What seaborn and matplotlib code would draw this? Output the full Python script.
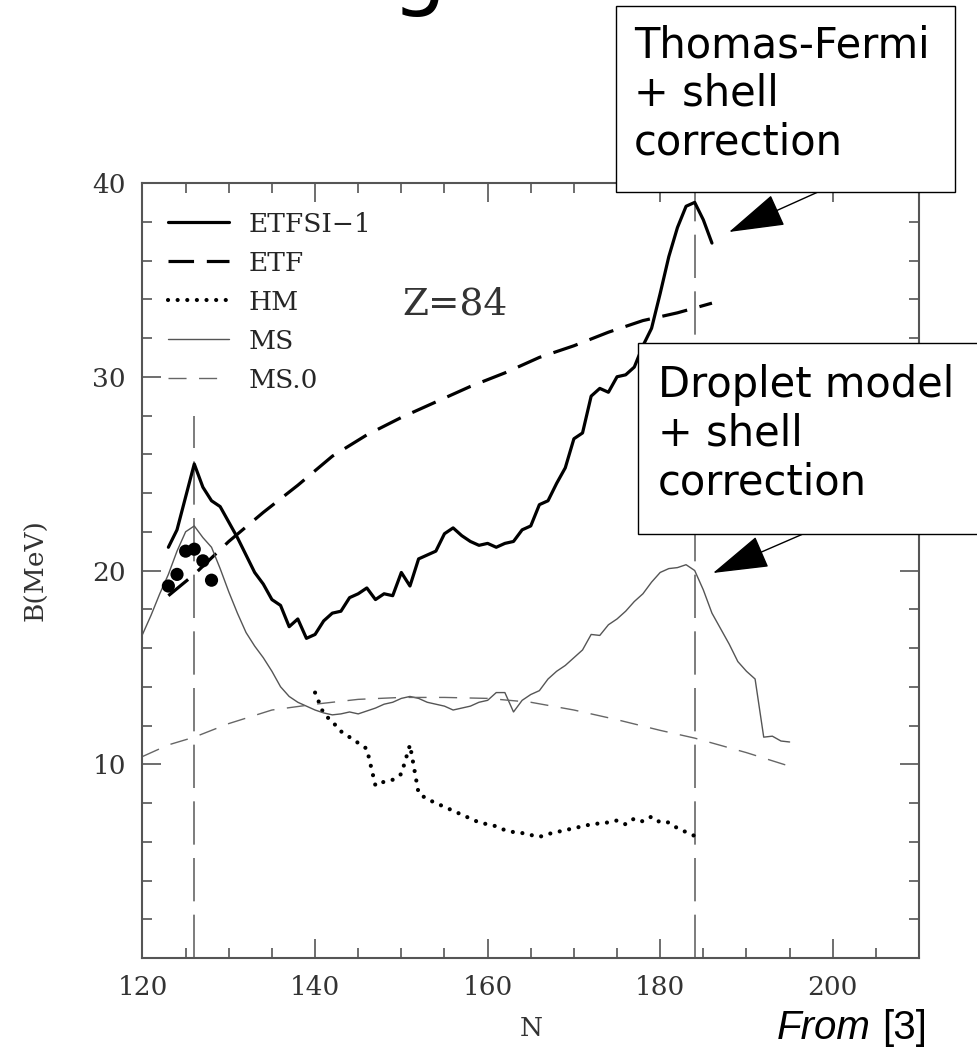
import matplotlib
matplotlib.use("Agg")
import matplotlib.pyplot as plt
import seaborn as sns
import numpy as np
from matplotlib.patches import Rectangle
from matplotlib.ticker import MultipleLocator, FixedLocator

# data (Z=84 fission barriers)
etfsi_n = np.arange(123, 187)
etfsi_b = [21.2, 22.1, 23.8, 25.5, 24.3, 23.6, 23.3, 22.5, 21.7, 20.8,
           19.9, 19.3, 18.5, 18.2, 17.1, 17.5, 16.5, 16.7, 17.4, 17.8,
           17.9, 18.6, 18.8, 19.1, 18.5, 18.8, 18.7, 19.9, 19.2, 20.6,
           20.8, 21.0, 21.9, 22.2, 21.8, 21.5, 21.3, 21.4, 21.2, 21.4,
           21.5, 22.1, 22.3, 23.4, 23.6, 24.5, 25.3, 26.8, 27.1, 29.0,
           29.4, 29.2, 30.0, 30.1, 30.5, 31.6, 32.5, 34.3, 36.2, 37.7,
           38.8, 39.0, 38.1, 36.9]

etf_n = [123, 126, 130, 134, 138, 142, 146, 150, 154, 158, 162, 166, 170, 174, 178, 182, 186]
etf_b = [18.7, 19.8, 21.5, 23.0, 24.4, 25.9, 27.0, 27.9, 28.7, 29.5, 30.2, 31.0, 31.6, 32.3, 32.9, 33.3, 33.8]

hm_n = np.arange(140, 185)
hm_b = [13.7, 12.6, 12.2, 11.7, 11.4, 11.1, 10.8, 8.9, 9.1, 9.2,
        9.5, 11.0, 8.5, 8.2, 8.0, 7.8, 7.6, 7.4, 7.2, 7.0,
        6.9, 6.8, 6.6, 6.5, 6.45, 6.35, 6.25, 6.4, 6.5, 6.6,
        6.7, 6.8, 6.9, 6.95, 7.0, 7.1, 6.9, 7.2, 7.05, 7.3,
        7.0, 7.0, 6.7, 6.5, 6.3]

ms_n = np.arange(120, 196)
ms_b = [16.7, 17.7, 18.8, 19.8, 21.0, 22.0, 22.3, 21.7, 21.2, 20.1,
        18.9, 17.8, 16.8, 16.1, 15.5, 14.8, 14.0, 13.5, 13.2, 13.0,
        12.8, 12.65, 12.55, 12.6, 12.7, 12.6, 12.75, 12.9, 13.1, 13.2,
        13.4, 13.5, 13.4, 13.2, 13.1, 13.0, 12.8, 12.9, 13.0, 13.2,
        13.3, 13.7, 13.7, 12.7, 13.3, 13.6, 13.8, 14.4, 14.8, 15.1,
        15.5, 15.9, 16.7, 16.65, 17.2, 17.5, 17.9, 18.4, 18.8, 19.4,
        19.9, 20.1, 20.15, 20.3, 20.0, 19.0, 17.8, 17.0, 16.2, 15.3,
        14.8, 14.4, 11.4, 11.45, 11.2, 11.15]

ms0_n = [120, 123, 126, 130, 135, 140, 145, 150, 155, 160, 165, 170, 175, 180, 184, 190, 195]
ms0_b = [10.4, 11.0, 11.4, 12.1, 12.8, 13.1, 13.35, 13.45, 13.45, 13.4, 13.2, 12.8, 12.3, 11.75, 11.35, 10.6, 9.9]

exp_n = [123, 124, 125, 126, 127, 128]
exp_b = [19.2, 19.8, 21.0, 21.1, 20.5, 19.5]

magic_n = [126, 184]
magic_top = [28.0, 40.0]

sns.set_style("ticks")
plt.rcParams['font.family'] = ['DejaVu Serif']

fig = plt.figure(figsize=(9.78, 10.5), dpi=100)
ax = fig.add_axes([0.1457, 0.0876, 0.7940, 0.7381])

grey = "#555555"

ax.vlines(magic_n, 0, magic_top, colors="#666666", lw=1.2, linestyles=[(0, (26, 8))])

sns.lineplot(x=etfsi_n, y=etfsi_b, ax=ax, color="black", lw=2.3, label="ETFSI\u22121")
sns.lineplot(x=etf_n, y=etf_b, ax=ax, color="black", lw=2.3, linestyle=(0, (8, 4)), label="ETF")
sns.lineplot(x=hm_n, y=hm_b, ax=ax, color="black", lw=3.0, linestyle=(0, (0.01, 2.3)),
             dash_capstyle="round", label="HM")
sns.lineplot(x=ms_n, y=ms_b, ax=ax, color=grey, lw=1.0, label="MS")
sns.lineplot(x=ms0_n, y=ms0_b, ax=ax, color="#666666", lw=1.0, linestyle=(0, (13, 9)), label="MS.0")
sns.scatterplot(x=exp_n, y=exp_b, ax=ax, color="black", s=90, edgecolor="none", zorder=5)

ax.set_xlim(120, 210)
ax.set_ylim(0, 40)
ax.xaxis.set_major_locator(FixedLocator([120, 140, 160, 180, 200]))
ax.xaxis.set_minor_locator(MultipleLocator(5))
ax.yaxis.set_major_locator(FixedLocator([10, 20, 30, 40]))
ax.yaxis.set_minor_locator(MultipleLocator(2))
ax.tick_params(which="both", direction="in", top=True, right=True, color=grey,
               labelsize=19, labelcolor="#333333", width=1.2)
ax.tick_params(which="major", length=14, pad=12)
ax.tick_params(which="minor", length=7)
for sp in ax.spines.values():
    sp.set_color(grey)
    sp.set_linewidth(1.5)

ax.set_xlabel("N", fontsize=19, color="#333333")
ax.set_ylabel("B(MeV)", fontsize=19, color="#333333")
ax.xaxis.set_label_coords(0.5, -0.075)
ax.yaxis.set_label_coords(-0.121, 0.5)

ax.text(150.1, 33.2, "Z=84", fontsize=27, color="#333333", va="baseline")

ax.legend(loc="upper left", bbox_to_anchor=(0.033, 0.963), frameon=False, fontsize=19,
          handlelength=2.3, handletextpad=0.75, labelspacing=0.53, borderpad=0, borderaxespad=0)

# annotation boxes (slide overlay)
W, H = 978.0, 1050.0
fig.patches.append(Rectangle((616 / W, 1 - 192 / H), (955 - 616) / W, (192 - 6) / H,
                             transform=fig.transFigure, facecolor="white", edgecolor="black",
                             lw=1.0, zorder=5))
fig.patches.append(Rectangle((638 / W, 1 - 534 / H), (990 - 638) / W, (534 - 343) / H,
                             transform=fig.transFigure, facecolor="white", edgecolor="black",
                             lw=1.0, zorder=5))
fig.text(634 / W, 1 - 24 / H, "Thomas-Fermi\n+ shell\ncorrection", fontsize=30,
         family="DejaVu Sans", color="black", va="top", ha="left", zorder=6)
fig.text(658 / W, 1 - 364 / H, "Droplet model\n+ shell\ncorrection", fontsize=30,
         family="DejaVu Sans", color="black", va="top", ha="left", zorder=6)

arrow = dict(arrowstyle="-|>,head_length=1.0,head_width=0.3", mutation_scale=36,
             color="black", lw=1.0, shrinkA=0, shrinkB=0)
ax.annotate("", xy=(729, H - 232), xycoords="figure pixels",
            xytext=(818, H - 192), textcoords="figure pixels", arrowprops=arrow)
ax.annotate("", xy=(713, H - 573), xycoords="figure pixels",
            xytext=(803, H - 534), textcoords="figure pixels", arrowprops=arrow)

# slide title remnant and source
fig.text(0.4, 1 + 1 / H, "g", fontsize=62, family="DejaVu Sans", color="black",
         va="baseline", ha="left")
fig.text(871 / W, 1 - 1039 / H, "From", fontsize=29, family="Liberation Sans",
         style="italic", color="black", ha="right", va="baseline")
fig.text(927 / W, 1 - 1039 / H, "[3]", fontsize=29, family="Liberation Sans",
         color="black", ha="right", va="baseline")

fig.savefig("out.png", dpi=100)
